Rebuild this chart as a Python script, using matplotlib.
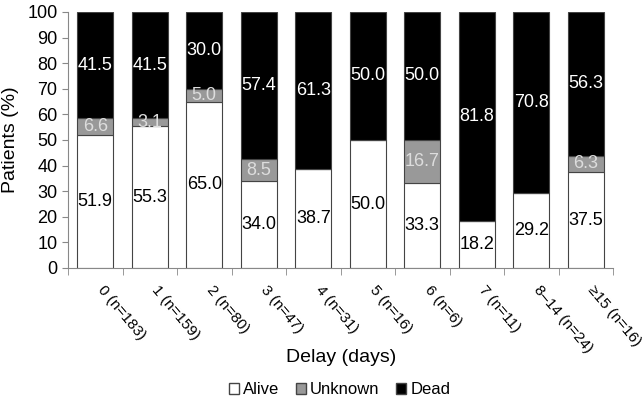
"""Stacked percentage bars: patient outcome by delay"""
import numpy as np
import matplotlib
matplotlib.use("Agg")
import matplotlib.pyplot as plt
from matplotlib.patches import Patch
from matplotlib.transforms import ScaledTranslation

plt.rcParams['font.family'] = ['Liberation Sans Narrow', 'Liberation Sans', 'DejaVu Sans']

categories = ["0 (n=183)", "1 (n=159)", "2 (n=80)", "3 (n=47)", "4 (n=31)",
              "5 (n=16)", "6 (n=6)", "7 (n=11)", "8\u201314 (n=24)", "\u226515 (n=16)"]
alive = [51.9, 55.3, 65.0, 34.0, 38.7, 50.0, 33.3, 18.2, 29.2, 37.5]
unknown = [6.6, 3.1, 5.0, 8.5, 0, 0, 16.7, 0, 0, 6.3]
dead = [41.5, 41.5, 30.0, 57.4, 61.3, 50.0, 50.0, 81.8, 70.8, 56.3]


def main():
    fig = plt.figure(figsize=(6.44, 4.0), dpi=100)
    ax = fig.add_axes([68 / 644, 1 - 268 / 400, 545 / 644, 256 / 400])

    x = np.arange(len(categories))
    w = 0.66
    a = np.array(alive)
    u = np.array(unknown)
    d = np.array(dead)
    ax.bar(x, a, w, color='white', edgecolor='#444444', linewidth=0.8)
    ax.bar(x, u, w, bottom=a, color='#999999', edgecolor='#444444', linewidth=0.8)
    ax.bar(x, d, w, bottom=a + u, color='black', edgecolor='#444444', linewidth=0.8)

    for i in range(len(x)):
        ax.text(x[i], a[i] / 2, f"{a[i]:.1f}", ha='center', va='center',
                fontsize=13, color='black')
        if u[i] > 0:
            ax.text(x[i], a[i] + u[i] / 2, f"{u[i]:.1f}", ha='center', va='center',
                    fontsize=13, color='#dddddd')
        ax.text(x[i], a[i] + u[i] + d[i] / 2, f"{d[i]:.1f}", ha='center', va='center',
                fontsize=13, color='white')

    ax.set_xlim(-0.5, len(x) - 0.5)
    ax.set_ylim(0, 100)
    ax.set_yticks(range(0, 101, 10))
    ax.tick_params(axis='y', labelsize=13, length=4, color='#888888')
    ax.set_xticks(x)
    ax.set_xticklabels(categories, rotation=-50, ha='left', va='top',
                       rotation_mode='anchor', fontsize=11)
    ax.tick_params(axis='x', length=0, pad=11)
    ax.set_xticks(np.arange(-0.5, len(x), 1), minor=True)
    ax.tick_params(axis='x', which='minor', length=5, color='#888888')
    shift = ScaledTranslation(0.10, 0, fig.dpi_scale_trans)
    for lab in ax.get_xticklabels():
        lab.set_transform(lab.get_transform() + shift)

    for s in ['top', 'right']:
        ax.spines[s].set_visible(False)
    for s in ['left', 'bottom']:
        ax.spines[s].set_color('#888888')

    ax.set_ylabel('Patients (%)', fontsize=14, labelpad=6)
    fig.text(0.53, 1 - 358 / 400, 'Delay (days)', ha='center', va='center', fontsize=14)

    handles = [Patch(facecolor='white', edgecolor='#444444', label='Alive'),
               Patch(facecolor='#999999', edgecolor='#444444', label='Unknown'),
               Patch(facecolor='black', edgecolor='#444444', label='Dead')]
    fig.legend(handles=handles, loc='center', bbox_to_anchor=(0.527, 1 - 390 / 400),
               ncol=3, frameon=False, fontsize=12, handlelength=0.6, handleheight=0.6,
               handletextpad=0.25, columnspacing=1.0)

    fig.savefig('out.png', dpi=100)


if __name__ == "__main__":
    main()
